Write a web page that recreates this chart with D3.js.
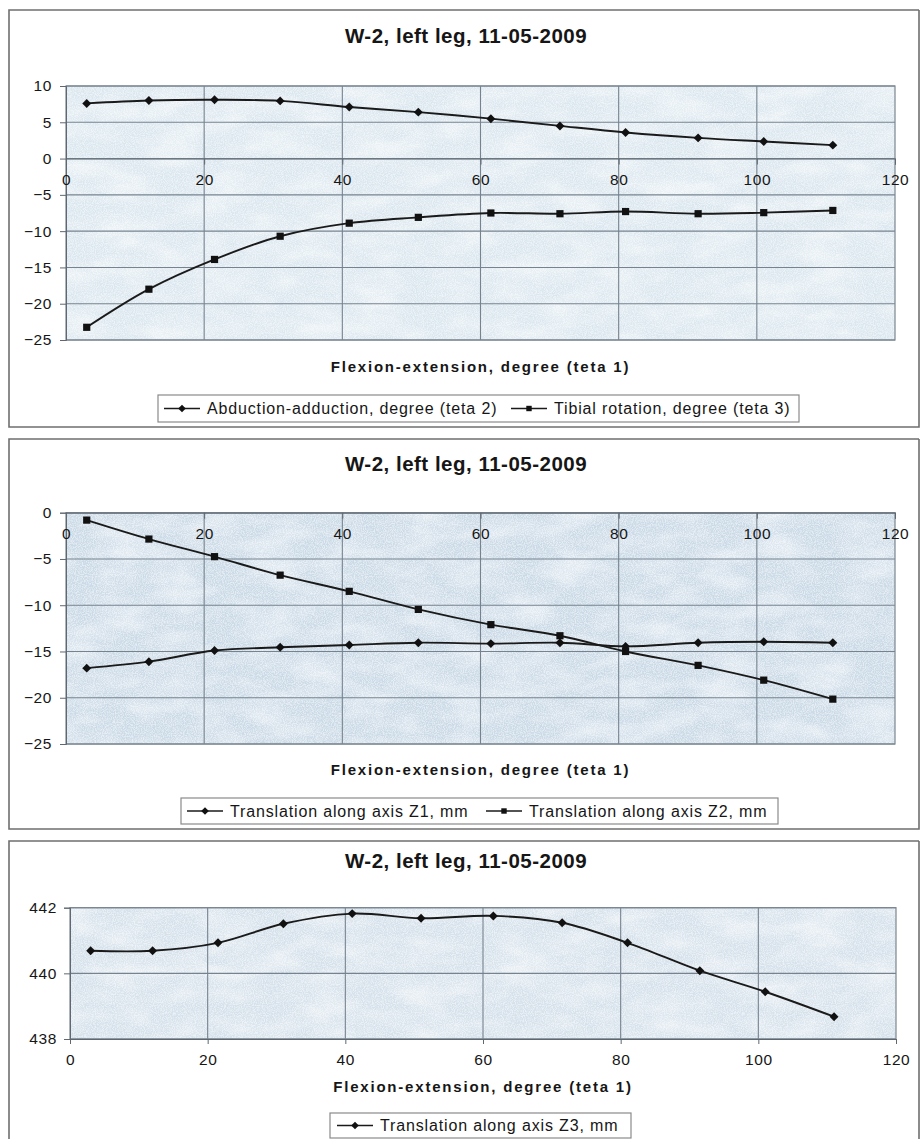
<!DOCTYPE html>
<html>
<head>
<meta charset="utf-8">
<script src="https://cdn.jsdelivr.net/npm/d3@7/dist/d3.min.js"></script>
<style>
  html, body { margin: 0; padding: 0; background: #ffffff; }
  svg { display: block; }
  text { font-family: "Liberation Sans", Arial, sans-serif; fill: #161616; }
</style>
</head>
<body>
<svg id="chart" width="920" height="1139"></svg>
<script>
// ---------------- DATA ----------------
const flexion = [3, 12, 21.5, 31, 41, 51, 61.5, 71.5, 81, 91.5, 101, 111];

const abduction = [7.6, 8.0, 8.1, 7.95, 7.1, 6.4, 5.5, 4.5, 3.6, 2.85, 2.35, 1.85];
const tibialRotation = [-23.25, -18.0, -13.9, -10.7, -8.9, -8.1, -7.5, -7.6, -7.3, -7.6, -7.45, -7.15];

const translationZ1 = [-16.8, -16.1, -14.9, -14.55, -14.3, -14.05, -14.15, -14.05, -14.45, -14.05, -13.95, -14.05];
const translationZ2 = [-0.8, -2.85, -4.75, -6.75, -8.5, -10.45, -12.1, -13.3, -15.0, -16.5, -18.1, -20.15];

const translationZ3 = [440.69, 440.69, 440.93, 441.51, 441.82, 441.68, 441.75, 441.54, 440.93, 440.08, 439.44, 438.68];

const xTicks = [0, 20, 40, 60, 80, 100, 120];
const yTicksAngles = [10, 5, 0, -5, -10, -15, -20, -25];
const yTicksZ = [0, -5, -10, -15, -20, -25];
const yTicksZ3 = [442, 440, 438];

const chartTitle = "W-2, left leg, 11-05-2009";
const xAxisTitle = "Flexion-extension, degree (teta 1)";

const labelsPanel1 = ["Abduction-adduction, degree (teta 2)", "Tibial rotation, degree (teta 3)"];
const labelsPanel2 = ["Translation along axis Z1, mm", "Translation along axis Z2, mm"];
const labelsPanel3 = ["Translation along axis Z3, mm"];

// ---------------- DRAWING ----------------
const svg = d3.select("#chart");
const defs = svg.append("defs");

const fSpeck = defs.append("filter").attr("id", "speck").attr("x", 0).attr("y", 0).attr("width", 1).attr("height", 1);
fSpeck.append("feTurbulence").attr("type", "fractalNoise").attr("baseFrequency", 0.9).attr("numOctaves", 2).attr("seed", 4);
fSpeck.append("feColorMatrix").attr("type", "matrix")
  .attr("values", "0 0 0 0 1  0 0 0 0 1  0 0 0 0 1  3.2 0 0 0 -1.2");

const fCloud = defs.append("filter").attr("id", "cloud").attr("x", 0).attr("y", 0).attr("width", 1).attr("height", 1);
fCloud.append("feTurbulence").attr("type", "fractalNoise").attr("baseFrequency", "0.02 0.05").attr("numOctaves", 3).attr("seed", 9);
fCloud.append("feColorMatrix").attr("type", "matrix")
  .attr("values", "0 0 0 0 1  0 0 0 0 1  0 0 0 0 1  2.2 0 0 0 -0.85");

const diamond = d3.symbol(d3.symbolSquare, 40);
const square = d3.symbol(d3.symbolSquare, 52);

function drawPanel(p) {
  const g = svg.append("g");

  g.append("path")
    .attr("d", `M919,${p.top} H9 V${p.bottom} H919 V${p.top}`)
    .attr("fill", "#ffffff").attr("stroke", "#6f6f6f").attr("stroke-width", 1.6);

  g.append("text")
    .attr("x", 466).attr("y", p.titleY)
    .attr("text-anchor", "middle")
    .attr("font-size", 20.5).attr("font-weight", "bold").attr("letter-spacing", 0.5)
    .text(chartTitle);

  const x = d3.scaleLinear().domain([0, 120]).range([p.x0, p.x1]);
  const y = d3.scaleLinear().domain(p.yDomain).range([p.yBottom, p.yTop]);

  const pw = p.x1 - p.x0, ph = p.yBottom - p.yTop;
  g.append("rect").attr("x", p.x0).attr("y", p.yTop).attr("width", pw).attr("height", ph).attr("fill", p.bg);
  g.append("rect").attr("x", p.x0).attr("y", p.yTop).attr("width", pw).attr("height", ph)
    .attr("filter", "url(#cloud)").attr("opacity", 0.45);
  g.append("rect").attr("x", p.x0).attr("y", p.yTop).attr("width", pw).attr("height", ph)
    .attr("filter", "url(#speck)").attr("opacity", 0.5);

  g.append("g").selectAll("line").data(p.yTicks).join("line")
    .attr("x1", p.x0).attr("x2", p.x1)
    .attr("y1", d => y(d)).attr("y2", d => y(d))
    .attr("stroke", "#76838f").attr("stroke-width", 1.1);
  g.append("g").selectAll("line").data(xTicks.slice(1, -1)).join("line")
    .attr("x1", d => x(d)).attr("x2", d => x(d))
    .attr("y1", p.yTop).attr("y2", p.yBottom)
    .attr("stroke", "#76838f").attr("stroke-width", 1.1);
  g.append("rect").attr("x", p.x0).attr("y", p.yTop).attr("width", pw).attr("height", ph)
    .attr("fill", "none").attr("stroke", "#7a8590").attr("stroke-width", 1.2);

  const ya = g.append("g").attr("transform", `translate(${p.x0},0)`)
    .call(d3.axisLeft(y).tickValues(p.yTicks).tickSize(6).tickPadding(p.yPad).tickFormat(d3.format("d")));
  ya.select(".domain").attr("stroke", "#5f6770");
  ya.selectAll(".tick line").attr("stroke", "#5f6770");
  ya.selectAll("text").attr("font-size", 15.5).attr("letter-spacing", 0.6).attr("fill", "#161616")
    .attr("font-family", "Liberation Sans, Arial, sans-serif");

  const xa = g.append("g").attr("transform", `translate(0,${y(p.xAxisAt)})`)
    .call(d3.axisBottom(x).tickValues(xTicks).tickSize(p.xTickSize).tickPadding(15 - p.xTickSize));
  xa.select(".domain").attr("stroke", "#5f6770");
  xa.selectAll(".tick line").attr("stroke", "#5f6770");
  xa.selectAll("text").attr("font-size", 15.5).attr("letter-spacing", 0.6).attr("fill", "#161616")
    .attr("font-family", "Liberation Sans, Arial, sans-serif");

  g.append("text")
    .attr("x", (p.x0 + p.x1) / 2).attr("y", p.xTitleY)
    .attr("text-anchor", "middle")
    .attr("font-size", 15).attr("font-weight", "bold").attr("letter-spacing", 1.8)
    .text(xAxisTitle);

  const line = d3.line().x(d => x(d[0])).y(d => y(d[1])).curve(d3.curveCatmullRom.alpha(0.5));
  p.series.forEach(s => {
    const pts = flexion.map((f, i) => [f, s.values[i]]);
    g.append("path").datum(pts).attr("d", line)
      .attr("fill", "none").attr("stroke", "#1a1a1a").attr("stroke-width", 1.9);
    g.append("g").selectAll("path").data(pts).join("path")
      .attr("d", s.marker === "diamond" ? diamond : square)
      .attr("transform", d => `translate(${x(d[0])},${y(d[1])})` + (s.marker === "diamond" ? " rotate(45)" : ""))
      .attr("fill", "#111111");
  });

  const L = p.legend;
  g.append("rect").attr("x", L.x).attr("y", L.y).attr("width", L.w).attr("height", L.h)
    .attr("fill", "#ffffff").attr("stroke", "#8a8a8a").attr("stroke-width", 1.2);
  p.series.forEach((s, i) => {
    const sx = L.items[i];
    const cy = L.y + L.h / 2;
    g.append("line").attr("x1", sx).attr("x2", sx + 36).attr("y1", cy).attr("y2", cy)
      .attr("stroke", "#1a1a1a").attr("stroke-width", 1.6);
    g.append("path").attr("d", s.marker === "diamond" ? diamond : square)
      .attr("transform", `translate(${sx + 18},${cy})` + (s.marker === "diamond" ? " rotate(45) scale(0.85)" : " scale(0.75)"))
      .attr("fill", "#111111");
    g.append("text").attr("x", sx + 43).attr("y", cy + 5.5)
      .attr("font-size", 16).attr("letter-spacing", 0.85)
      .text(s.label);
  });
}

drawPanel({
  top: 10, bottom: 427, titleY: 43,
  x0: 66, x1: 895, yTop: 86, yBottom: 340, yDomain: [-25, 10],
  yTicks: yTicksAngles, yPad: 8, xAxisAt: 0, xTickSize: 6, xTitleY: 372,
  bg: "#dbe7ef",
  series: [
    { values: abduction, marker: "diamond", label: labelsPanel1[0] },
    { values: tibialRotation, marker: "square", label: labelsPanel1[1] }
  ],
  legend: { x: 158, y: 395, w: 641, h: 27, items: [164, 511] }
});

drawPanel({
  top: 439, bottom: 829, titleY: 471,
  x0: 66, x1: 895, yTop: 512.7, yBottom: 744, yDomain: [-25, 0],
  yTicks: yTicksZ, yPad: 8, xAxisAt: 0, xTickSize: 6, xTitleY: 775,
  bg: "#cbdae7",
  series: [
    { values: translationZ1, marker: "diamond", label: labelsPanel2[0] },
    { values: translationZ2, marker: "square", label: labelsPanel2[1] }
  ],
  legend: { x: 181, y: 798, w: 597, h: 26, items: [187, 486] }
});

drawPanel({
  top: 841, bottom: 1150, titleY: 868,
  x0: 70, x1: 896, yTop: 907.7, yBottom: 1039, yDomain: [438, 442],
  yTicks: yTicksZ3, yPad: 7, xAxisAt: 438, xTickSize: 5, xTitleY: 1092,
  bg: "#d5e1eb",
  series: [
    { values: translationZ3, marker: "diamond", label: labelsPanel3[0] }
  ],
  legend: { x: 330, y: 1113, w: 301, h: 25, items: [337] }
});
</script>
</body>
</html>
